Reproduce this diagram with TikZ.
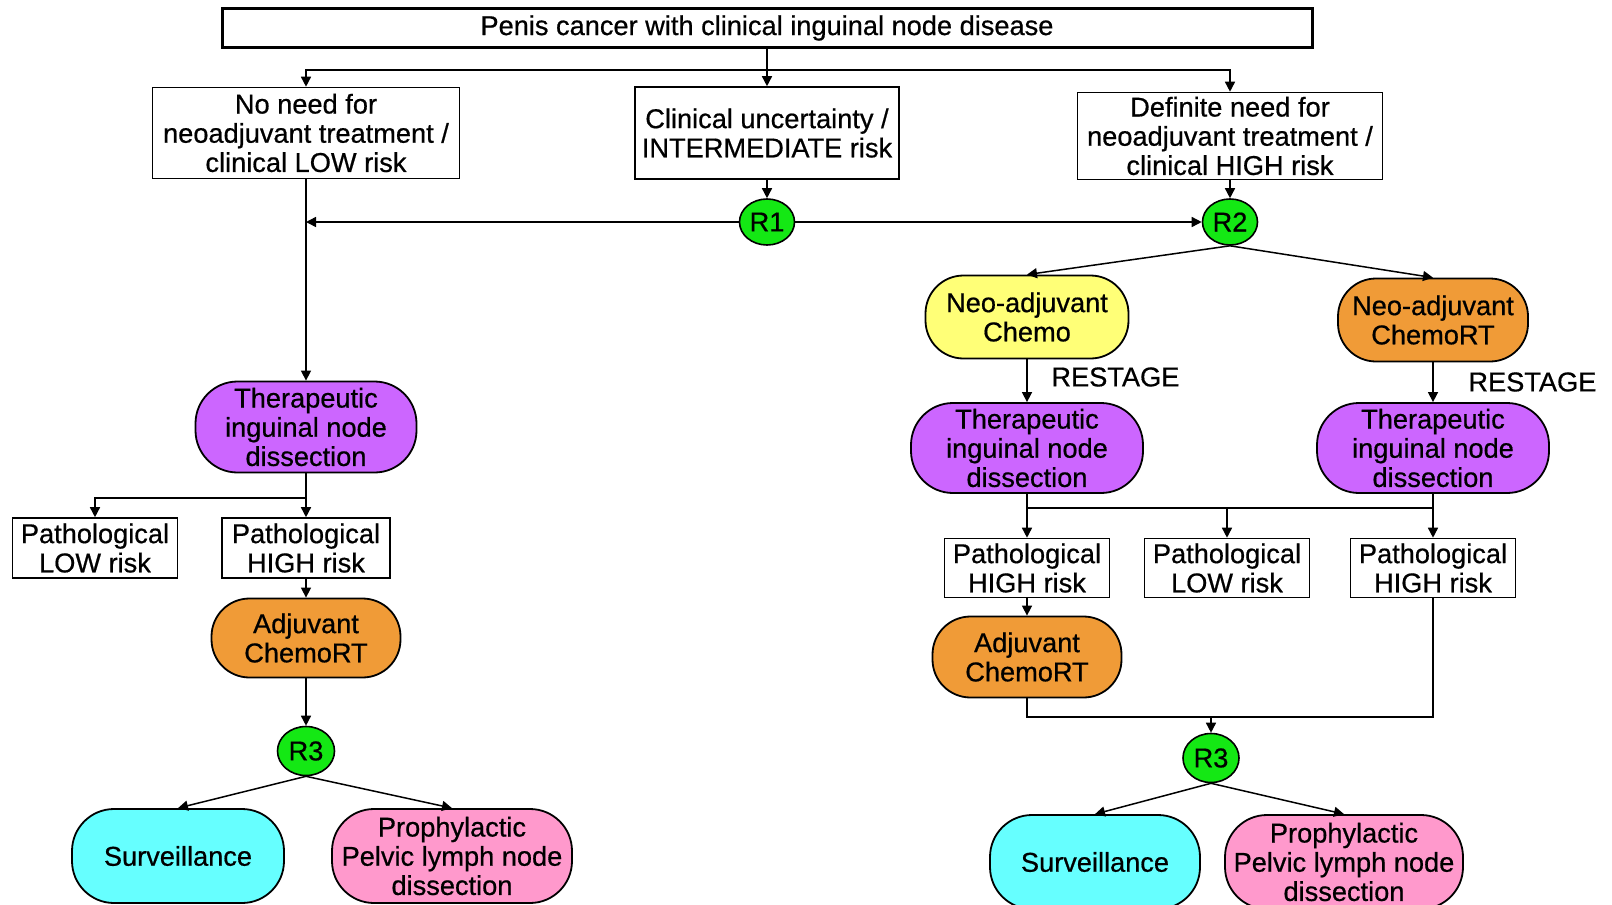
\documentclass[tikz,border=0pt]{standalone}
\usepackage{fontspec}
\setmainfont{Liberation Sans}[FakeBold=0.6]
\usetikzlibrary{arrows.meta,shapes.geometric}
\definecolor{rgreen}{RGB}{20,232,20}
\definecolor{purp}{RGB}{204,102,255}
\definecolor{yell}{RGB}{255,255,119}
\definecolor{oran}{RGB}{240,155,55}
\definecolor{cyanf}{RGB}{102,255,255}
\definecolor{pinkf}{RGB}{255,153,204}
\begin{document}
\begin{tikzpicture}[x=0.5pt,y=-0.5pt,
  every node/.style={font=\fontsize{13.6}{14.6}\selectfont, align=center, inner sep=0pt},
  box/.style={draw, line width=0.8pt, fill=white},
  pill/.style={draw, line width=0.9pt, rounded corners=21pt},
  smallpill/.style={draw, line width=0.9pt, rounded corners=19pt},
  rnode/.style={ellipse, draw, line width=0.8pt, fill=rgreen, minimum width=27.5pt, minimum height=23pt},
  conn/.style={line width=0.75pt},
  arr/.style={conn, -{Triangle[length=5pt,width=5pt]}}]
\useasboundingbox (0,0) rectangle (1612,905);

% header and first-level decisions
\node[box, line width=1.5pt, minimum width=545pt, minimum height=19.5pt] (top) at (767,28) {Penis cancer with clinical inguinal node disease};
\node[box, minimum width=153.5pt, minimum height=45.5pt] (low) at (306,133) {No need for\\neoadjuvant treatment /\\clinical LOW risk};
\node[box, minimum width=132pt, minimum height=46pt] (mid) at (767,133) {Clinical uncertainty /\\INTERMEDIATE risk};
\node[box, minimum width=152.5pt, minimum height=43.5pt] (high) at (1230,136) {Definite need for\\neoadjuvant treatment /\\clinical HIGH risk};
\coordinate (busT) at (767,70);

\node[rnode] (R1) at (767,222) {R1};
\node[rnode] (R2) at (1230,222) {R2};
\coordinate (jL) at (306,222);

% left branch
\node[pill, fill=purp, minimum width=110.5pt, minimum height=45.5pt] (thL) at (306,427) {Therapeutic\\inguinal node\\dissection};
\coordinate (bL) at (306,498);
\node[box, minimum width=82.5pt, minimum height=30pt] (pLL) at (95,548) {Pathological\\LOW risk};
\node[box, minimum width=84pt, minimum height=30pt] (pHL) at (306,548) {Pathological\\HIGH risk};
\node[smallpill, fill=oran, minimum width=94.5pt, minimum height=39.5pt] (adjL) at (306,638) {Adjuvant\\ChemoRT};
\node[rnode, minimum width=28.5pt, minimum height=24.5pt] (R3L) at (306,751) {R3};
\node[pill, fill=cyanf, minimum width=106pt, minimum height=47pt] (survL) at (178,856) {Surveillance};
\node[pill, fill=pinkf, minimum width=120pt, minimum height=47pt] (proL) at (452,856) {Prophylactic\\Pelvic lymph node\\dissection};

% right branch
\node[smallpill, fill=yell, minimum width=101.5pt, minimum height=41.5pt] (neoC) at (1027,317) {Neo-adjuvant\\Chemo};
\node[smallpill, fill=oran, minimum width=95pt, minimum height=41.5pt] (neoRT) at (1433,320) {Neo-adjuvant\\ChemoRT};
\node[anchor=west] (rs1) at (1051,377) {RESTAGE};
\node[anchor=west] (rs2) at (1468,382) {RESTAGE};
\node[pill, fill=purp, minimum width=116pt, minimum height=45pt] (thR1) at (1027,448) {Therapeutic\\inguinal node\\dissection};
\node[pill, fill=purp, minimum width=116pt, minimum height=45pt] (thR2) at (1433,448) {Therapeutic\\inguinal node\\dissection};
\coordinate (bR) at (1227,508);
\node[box, minimum width=82.5pt, minimum height=29.5pt] (pR1) at (1027,568) {Pathological\\HIGH risk};
\node[box, minimum width=82.5pt, minimum height=29.5pt] (pR2) at (1227,568) {Pathological\\LOW risk};
\node[box, minimum width=82.5pt, minimum height=29.5pt] (pR3) at (1433,568) {Pathological\\HIGH risk};
\node[smallpill, fill=oran, minimum width=94.5pt, minimum height=40.5pt] (adjR) at (1027,657) {Adjuvant\\ChemoRT};
\coordinate (mR) at (1211,717);
\node[rnode, minimum width=28pt, minimum height=24.5pt] (R3R) at (1211,758) {R3};
\node[pill, fill=cyanf, minimum width=105pt, minimum height=47pt] (survR) at (1095,862) {Surveillance};
\node[pill, fill=pinkf, minimum width=119pt, minimum height=47pt] (proR) at (1344,862) {Prophylactic\\Pelvic lymph node\\dissection};

% connectors: top level
\draw[arr] (top.south) -- (mid.north);
\draw[arr] (busT) -| (low.north);
\draw[arr] (busT) -| (high.north);
\draw[arr] (mid.south) -- (R1.north);
\draw[arr] (high.south) -- (R2.north);
\draw[arr] (R1.west) -- (jL);
\draw[arr] (R1.east) -- (R2.west);

% connectors: left
\draw[arr] (low.south) -- (thL.north);
\draw[arr] (thL.south) -- (pHL.north);
\draw[arr] (bL) -| (pLL.north);
\draw[arr] (pHL.south) -- (adjL.north);
\draw[arr] (adjL.south) -- (R3L.north);
\draw[arr] (R3L.south) -- (survL.north);
\draw[arr] (R3L.south) -- (proL.north);

% connectors: right
\draw[arr] (R2.south) -- (neoC.north);
\draw[arr] (R2.south) -- (neoRT.north);
\draw[arr] (neoC.south) -- (thR1.north);
\draw[arr] (neoRT.south) -- (thR2.north);
\draw[arr] (thR1.south) -- (pR1.north);
\draw[arr] (thR2.south) -- (pR3.north);
\draw[conn] (thR1.south |- bR) -- (thR2.south |- bR);
\draw[arr] (bR) -- (pR2.north);
\draw[arr] (pR1.south) -- (adjR.north);
\draw[conn] (adjR.south) |- (mR) -| (pR3.south);
\draw[arr] (mR) -- (R3R.north);
\draw[arr] (R3R.south) -- (survR.north);
\draw[arr] (R3R.south) -- (proR.north);
\end{tikzpicture}
\end{document}
